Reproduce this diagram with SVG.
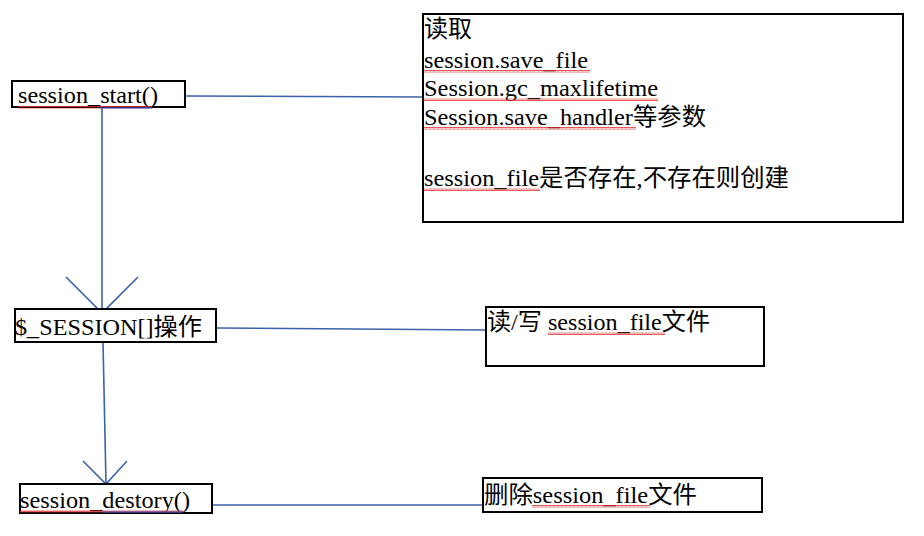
<svg xmlns="http://www.w3.org/2000/svg" width="924" height="536" viewBox="0 0 924 536">
<style>
.box{fill:#fff;stroke:#000;stroke-width:2}
.t{font-family:"Liberation Serif","Noto Sans CJK SC",serif;font-size:23.5px;fill:#000}
.c{stroke:#3a62a8;stroke-width:1.6;fill:none}
.sq{fill:url(#wave)}
.bl{stroke:#3a62e0;stroke-width:1.2}
</style>
<defs>
<pattern id="wave" width="4" height="3" patternUnits="userSpaceOnUse">
<path d="M0,2.5 L1,0.5 L2,2.5 L3,0.5 L4,2.5" stroke="#e03030" stroke-width="0.8" fill="none"/>
</pattern>
</defs>
<rect width="924" height="536" fill="#fff"/>
<g id="connectors">
<line class="c" x1="185" y1="96" x2="424" y2="97"/>
<line class="c" x1="102" y1="108" x2="102" y2="312"/>
<polyline class="c" points="66,277 102,313 138,277"/>
<line class="c" x1="216" y1="328" x2="487" y2="330"/>
<line class="c" x1="103" y1="342" x2="106" y2="484"/>
<polyline class="c" points="83,461 106,484 127,461"/>
<line class="c" x1="212" y1="505" x2="484" y2="505"/>
</g>
<g id="node-start">
<rect class="box" x="12" y="81" width="173" height="26"/>
<text class="t" x="18" y="103" textLength="140" lengthAdjust="spacingAndGlyphs">session_start()</text>
<rect class="sq" x="18" y="106" width="134" height="3"/>
<line class="bl" x1="100" y1="108" x2="152" y2="108"/>
</g>
<g id="node-read">
<rect class="box" x="423" y="14" width="480" height="208"/>
<text class="t" x="424" y="37" textLength="48" lengthAdjust="spacingAndGlyphs">读取</text>
<text class="t" x="424" y="68" textLength="164" lengthAdjust="spacingAndGlyphs">session.save_file</text>
<text class="t" x="424" y="96" textLength="234" lengthAdjust="spacingAndGlyphs">Session.gc_maxlifetime</text>
<text class="t" x="424" y="125" textLength="282" lengthAdjust="spacingAndGlyphs">Session.save_handler等参数</text>
<text class="t" x="424" y="186" textLength="365" lengthAdjust="spacingAndGlyphs">session_file是否存在,不存在则创建</text>
<rect class="sq" x="424" y="70" width="166" height="3"/>
<rect class="sq" x="424" y="98" width="234" height="3"/>
<rect class="sq" x="424" y="127" width="212" height="3"/>
<rect class="sq" x="424" y="188" width="116" height="3"/>
</g>
<g id="node-session">
<rect class="box" x="15" y="309" width="201" height="33"/>
<text class="t" x="15" y="335" textLength="187" lengthAdjust="spacingAndGlyphs">$_SESSION[]操作</text>
</g>
<g id="node-rw">
<rect class="box" x="486" y="307" width="278" height="59"/>
<text class="t" x="487" y="330" textLength="223" lengthAdjust="spacingAndGlyphs">读/写 session_file文件</text>
<rect class="sq" x="548" y="332" width="117" height="3"/>
</g>
<g id="node-destroy">
<rect class="box" x="20" y="484" width="192" height="29"/>
<text class="t" x="20" y="508" textLength="170" lengthAdjust="spacingAndGlyphs">session_destory()</text>
<rect class="sq" x="20" y="510" width="163" height="3"/>
<line class="bl" x1="103" y1="512" x2="183" y2="512"/>
</g>
<g id="node-delete">
<rect class="box" x="483" y="478" width="279" height="34"/>
<text class="t" x="484" y="503" textLength="213" lengthAdjust="spacingAndGlyphs">删除session_file文件</text>
<rect class="sq" x="532" y="505" width="118" height="3"/>
</g>
</svg>
